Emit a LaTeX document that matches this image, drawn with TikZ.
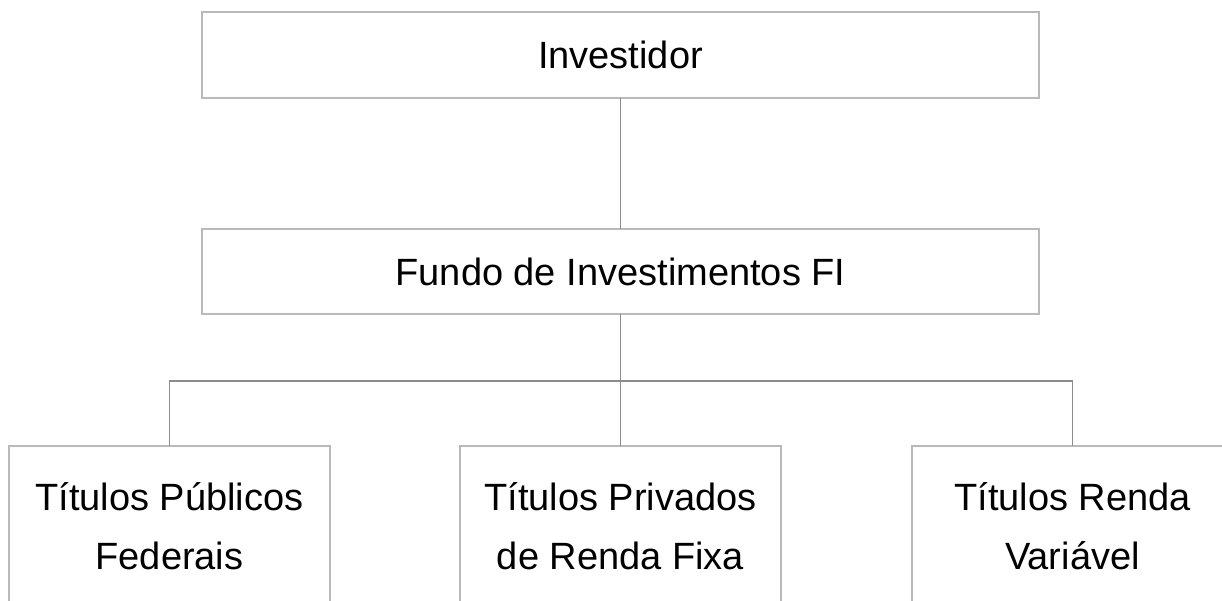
\documentclass[tikz,border=0pt]{standalone}
\usepackage{fontspec}
\setmainfont{Liberation Sans}
\begin{document}
\begin{tikzpicture}[x=1pt,y=-1pt,
  box/.style={draw=gray!55, line width=1.1pt, rectangle, inner sep=0pt, outer sep=0pt,
    align=center, font=\fontsize{38}{59}\selectfont, text=black},
  conn/.style={draw=gray!90, line width=1.1pt}]
\useasboundingbox (0,0) rectangle (1222,600);
\clip (0,0) rectangle (1222,600);
\fill[white] (0,0) rectangle (1222,600);
\node[box, minimum width=837pt, minimum height=86pt] (inv) at (620.5,55) {Investidor};
\node[box, minimum width=837pt, minimum height=85pt] (fundo) at (620.5,271.5) {Fundo de Investimentos FI};
\node[box, minimum width=321pt, minimum height=160pt] (tpub) at (169.5,526) {Títulos Públicos\\Federais};
\node[box, minimum width=321pt, minimum height=160pt] (tpriv) at (620.5,526) {Títulos Privados\\de Renda Fixa};
\node[box, minimum width=321pt, minimum height=160pt] (tvar) at (1072.5,526) {Títulos Renda\\Variável};
\coordinate (bus) at (620.5,381);
\draw[conn] (inv.south) -- (fundo.north);
\draw[conn] (fundo.south) -- (tpriv.north);
\draw[conn] (tpub.north) |- (bus) -| (tvar.north);
\end{tikzpicture}
\end{document}
